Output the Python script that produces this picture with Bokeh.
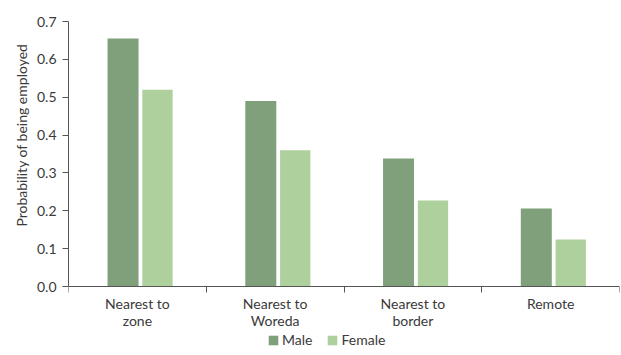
from bokeh.plotting import figure
from bokeh.models import (ColumnDataSource, Range1d, FixedTicker, NumeralTickFormatter,
                          Legend, LegendItem, Title)
from bokeh.transform import dodge
from bokeh.embed import file_html
from bokeh.resources import INLINE

categories = ["Nearest to\nzone", "Nearest to\nWoreda", "Nearest to\nborder", "Remote"]
male = [0.655, 0.49, 0.338, 0.206]
female = [0.52, 0.36, 0.227, 0.124]
y_ticks = [0.0, 0.1, 0.2, 0.3, 0.4, 0.5, 0.6, 0.7]

x_pos = [i + 0.5 for i in range(len(categories))]
src = ColumnDataSource(dict(x=x_pos, male=male, female=female))

FONT = "Lato"
TXT = "#3a3a3a"
AX = "#555555"

# geometry: the value axis (0..0.7) occupies the top 265 px of the frame;
# the extra space under it holds category labels and the legend
PLOT_H = 265
EXTRA_H = 65
Y_MAX = 0.7
y_start = -Y_MAX * EXTRA_H / PLOT_H

p = figure(frame_width=551, frame_height=PLOT_H + EXTRA_H, output_backend="svg",
           toolbar_location=None,
           x_range=Range1d(0, len(categories)), y_range=Range1d(y_start, Y_MAX),
           min_border_left=68, min_border_right=1, min_border_top=21, min_border_bottom=0)
p.outline_line_color = None
p.xgrid.visible = False
p.ygrid.visible = False

rm = p.vbar(x=dodge("x", -0.104, range=p.x_range), top="male", width=0.225, source=src,
            fill_color="#7fa07a", line_color=None)
rf = p.vbar(x=dodge("x", 0.146, range=p.x_range), top="female", width=0.22, source=src,
            fill_color="#add09d", line_color=None)

# x axis drawn at y = 0: labels at centres, tick marks at boundaries
p.xaxis.fixed_location = 0
p.xaxis.ticker = FixedTicker(ticks=x_pos, minor_ticks=list(range(len(categories) + 1)))
p.xaxis.major_label_overrides = {x: c for x, c in zip(x_pos, categories)}
p.xaxis.major_tick_line_color = None
p.xaxis.minor_tick_line_color = AX
p.xaxis.minor_tick_out = 6
p.xaxis.minor_tick_in = 0
p.xaxis.axis_line_color = AX
p.xaxis.major_label_text_font = FONT
p.xaxis.major_label_text_font_size = "14px"
p.xaxis.major_label_text_color = TXT
p.xaxis.major_label_text_line_height = 1.0
p.xaxis.major_label_standoff = 2

p.yaxis.ticker = FixedTicker(ticks=y_ticks)
p.yaxis.bounds = (0, Y_MAX)
p.yaxis.formatter = NumeralTickFormatter(format="0.0")
p.yaxis.minor_tick_line_color = None
p.yaxis.major_tick_out = 6
p.yaxis.major_tick_in = 0
p.yaxis.major_tick_line_color = AX
p.yaxis.axis_line_color = AX
p.yaxis.major_label_text_font = FONT
p.yaxis.major_label_text_font_size = "14px"
p.yaxis.major_label_text_color = TXT
p.yaxis.major_label_standoff = 6

ylab = Title(text="Probability of being employed", align="right", offset=22,
             vertical_align="middle", standoff=6,
             text_font=FONT, text_font_size="14px", text_font_style="normal",
             text_color=TXT)
p.add_layout(ylab, "left")

legend = Legend(items=[LegendItem(label="Male", renderers=[rm]),
                       LegendItem(label="Female", renderers=[rf])],
                orientation="horizontal", location=(199, 3),
                label_text_font=FONT, label_text_font_size="14px", label_text_color=TXT,
                glyph_width=12, glyph_height=12, label_standoff=3, spacing=14,
                label_height=17, padding=0, margin=0, border_line_color=None,
                background_fill_alpha=0)
p.add_layout(legend, "center")

open("out.html", "w").write(file_html(p, INLINE))
